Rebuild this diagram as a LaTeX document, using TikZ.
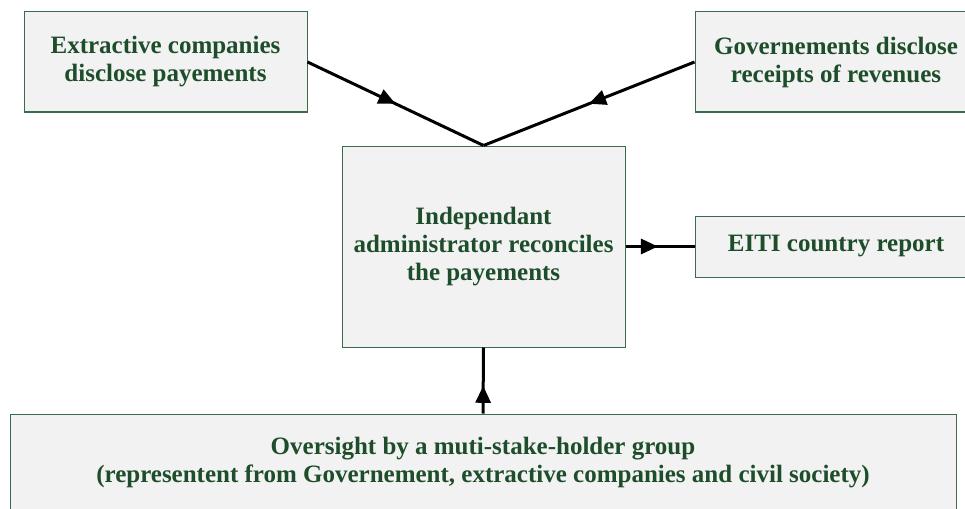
\documentclass[tikz,border=0pt]{standalone}
\usepackage{fontspec}
\setmainfont{Liberation Serif}
\usetikzlibrary{arrows.meta,decorations.markings}
\definecolor{txtgreen}{HTML}{1E4D2B}
\definecolor{boxline}{HTML}{3A6B4A}
\definecolor{boxfill}{HTML}{F2F2F2}
\tikzset{
  box/.style={draw=boxline, line width=1pt, fill=boxfill, rectangle, inner sep=0pt,
    align=center, text=txtgreen, font=\fontsize{25}{28}\selectfont\bfseries},
  conn/.style={line width=3pt, black, postaction={decorate},
    decoration={markings, mark=at position #1 with {\arrow{Triangle[length=17pt,width=15pt]}}}},
}
\begin{document}
\begin{tikzpicture}[x=1pt,y=-1pt]
\useasboundingbox (0,0) rectangle (965,508);
\clip (0,0) rectangle (965,508);
\node[box, minimum width=283pt, minimum height=100pt] (comp) at (165.5,62) {Extractive companies\\disclose payements};
\node[box, minimum width=282pt, minimum height=100pt] (gov) at (836,62) {Governements disclose\\receipts of revenues};
\node[box, minimum width=283pt, minimum height=201pt] (admin) at (483.5,246.5) {Independant\\administrator reconciles\\the payements};
\node[box, minimum width=282pt, minimum height=61pt] (eiti) at (836,246.5) {EITI country report};
\node[box, minimum width=946pt, minimum height=98pt] (over) at (483,463) {Oversight by a muti-stake-holder group\\(representent from Governement, extractive companies and civil society)};
\coordinate (join) at (admin.north);
\draw[conn=0.5] (comp.east) -- (join);
\draw[conn=0.5] (gov.west) -- (join);
\draw[conn=0.47] (admin.east) -- (eiti.west);
\draw[conn=0.42] (over.north) -- (admin.south);
\end{tikzpicture}
\end{document}
